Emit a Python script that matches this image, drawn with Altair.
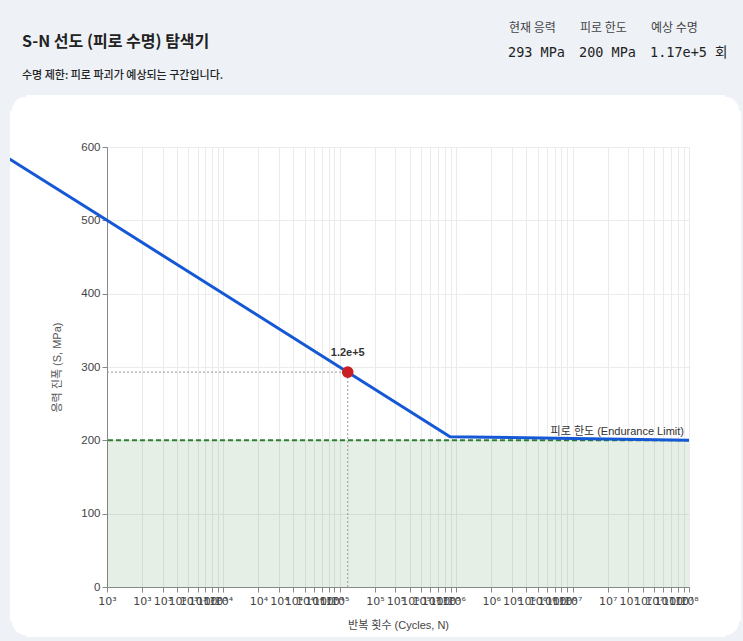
import altair as alt
import pandas as pd

# ---------------- data ----------------
line_N = [100, 1000, 8.85e5, 1e8]
line_S = [600, 500, 205, 200]
endurance_limit = 200
current_N = 1.17e5
current_S = 293
x_domain = [1e3, 1e8]
y_domain = [0, 600]
y_ticks = [0, 100, 200, 300, 400, 500, 600]
x_decades = [3, 4, 5, 6, 7]
x_mults = [1, 2, 3, 4, 5, 6, 7, 8, 9]
x_ticks = [m * 10 ** e for e in x_decades for m in x_mults] + [1e8]

title_text = "S-N 선도 (피로 수명) 탐색기"
subtitle_text = "수명 제한: 피로 파괴가 예상되는 구간입니다."
stat_labels = ["현재 응력", "피로 한도", "예상 수명"]
stat_values = ["293 MPa", "200 MPa", "1.17e+5 회"]
endurance_text = "피로 한도 (Endurance Limit)"
x_title = "반복 횟수 (Cycles, N)"
y_title = "응력 진폭 (S, MPa)"

# ---------------- styles ----------------
PAGE_BG = "#eef2f7"
BLUE = "#1558d6"
RED = "#c81e24"
GREEN = "#2e7d32"
KFONT = "Noto Sans CJK KR"
AFONT = "Liberation Sans, Noto Sans CJK KR"

W, H = 582, 440
PL, PT = 107, 147

xscale = alt.Scale(type="log", domain=x_domain)
yscale = alt.Scale(domain=y_domain)

xaxis = alt.Axis(
    values=x_ticks,
    labelExpr="'10' + ['⁰','¹','²','³','⁴','⁵','⁶','⁷','⁸','⁹'][floor(log(datum.value)/LN10 + 0.000001)]",
    labelOverlap=False, labelFlush=False,
    grid=True, gridColor="#ebebeb",
    domainColor="#888", tickColor="#888", tickSize=5, labelPadding=3,
    labelFontSize=11, labelColor="#444", labelFont="DejaVu Sans",
    title=x_title, titleFontSize=11, titleFontWeight="normal", titleColor="#444",
    titleFont=AFONT, titlePadding=13,
)
yaxis = alt.Axis(
    values=y_ticks, grid=True, gridColor="#ebebeb",
    domainColor="#888", tickColor="#888", tickSize=5,
    labelFontSize=11.5, labelColor="#444", labelFont=AFONT,
    title=y_title, titleFontSize=11, titleFontWeight="normal", titleColor="#555",
    titleFont=AFONT, titlePadding=18,
)


def X(f="N"):
    return alt.X(f"{f}:Q", scale=xscale, axis=xaxis)


def Y(f="S"):
    return alt.Y(f"{f}:Q", scale=yscale, axis=yaxis)


dummy = pd.DataFrame({"k": [0]})


def rect(x, x2, y, y2, color):
    return alt.Chart(dummy).mark_rect(color=color).encode(
        x=alt.value(x), x2=alt.value(x2), y=alt.value(y), y2=alt.value(y2)
    )


def dot(x, y, r, color):
    return alt.Chart(dummy).mark_circle(color=color, opacity=1).encode(
        x=alt.value(x), y=alt.value(y), size=alt.value(3.1416 * r * r)
    )


def label(text, x, y, size, color="#222", font=KFONT, weight="normal", align="left"):
    return alt.Chart(dummy).mark_text(
        text=text, fontSize=size, font=font, fontWeight=weight, color=color,
        align=align, baseline="middle",
    ).encode(x=alt.value(x), y=alt.value(y))


# ---------------- data layers ----------------
df_line = pd.DataFrame({"N": line_N, "S": line_S})
df_fill = pd.DataFrame({"N": x_domain, "S": [endurance_limit, endurance_limit]})
df_lim = pd.DataFrame({"N": [x_domain[1]], "S": [endurance_limit]})
df_h = pd.DataFrame({"N": [x_domain[0], current_N], "S": [current_S, current_S]})
df_v = pd.DataFrame({"N": [current_N, current_N], "S": [0, current_S]})
df_pt = pd.DataFrame({"N": [current_N], "S": [current_S]})

fill = alt.Chart(df_fill).mark_area(color=GREEN, opacity=0.12).encode(x=X(), y=Y())
lim_rule = alt.Chart(df_lim).mark_rule(color=GREEN, strokeWidth=2, strokeDash=[5, 3]).encode(y=Y())
hline = alt.Chart(df_h).mark_line(color="#999", strokeWidth=1, strokeDash=[2, 2]).encode(x=X(), y=Y())
vline = alt.Chart(df_v).mark_line(color="#999", strokeWidth=1, strokeDash=[2, 2]).encode(x=X(), y=Y())
sn_line = alt.Chart(df_line).mark_line(color=BLUE, strokeWidth=3, clip=False).encode(x=X(), y=Y())
point = alt.Chart(df_pt).mark_circle(color=RED, size=135, opacity=1).encode(x=X(), y=Y())
pt_label = alt.Chart(df_pt).mark_text(
    fontSize=11, fontWeight="bold", color="#333", font=AFONT, dy=-19, baseline="middle"
).encode(x=X(), y=Y(), text=alt.Text("N:Q", format=".1e"))
lim_label = alt.Chart(df_lim).mark_text(
    text=endurance_text, fontSize=11, color="#333", font=AFONT,
    align="right", baseline="bottom", dx=-5, dy=-3,
).encode(x=X(), y=Y())

# ---------------- page / card decoration ----------------
R = 16
cl, cr, ct, cb = 10 - PL, 741 - PL, 95 - PT, 637 - PT
deco = [
    rect(-PL, W + 60, -PT, ct, PAGE_BG),
    rect(-PL, cl, -PT, H + 60, PAGE_BG),
    rect(cr, W + 60, -PT, H + 60, PAGE_BG),
    rect(-PL, W + 60, cb, H + 60, PAGE_BG),
    rect(cl, cl + R, ct, ct + R, PAGE_BG),
    rect(cr - R, cr, ct, ct + R, PAGE_BG),
    rect(cl, cl + R, cb - R, cb, PAGE_BG),
    rect(cr - R, cr, cb - R, cb, PAGE_BG),
    dot(cl + R, ct + R, R, "white"),
    dot(cr - R, ct + R, R, "white"),
    dot(cl + R, cb - R, R, "white"),
    dot(cr - R, cb - R, R, "white"),
]

header = [
    label(title_text, 22 - PL, 42 - PT, 16, "#222", KFONT, "bold"),
    label(subtitle_text, 22 - PL, 76 - PT, 11, "#222", KFONT, 500),
]
stat_x = [509 - PL, 580 - PL, 651 - PL]
for sx, lt, vt in zip(stat_x, stat_labels, stat_values):
    header.append(label(lt, sx, 28 - PT, 12, "#444", KFONT))
    header.append(label(vt, sx - 1, 53 - PT, 13.5, "#222", "DejaVu Sans Mono, Noto Sans CJK KR"))

chart = alt.layer(
    fill, lim_rule, hline, vline, sn_line, point, pt_label, lim_label, *deco, *header
).properties(
    width=W, height=H,
    autosize=alt.AutoSizeParams(type="none"),
    padding={"left": PL, "top": PT, "right": 743 - PL - W, "bottom": 641 - PT - H},
    background="white",
).configure_view(stroke=None)

chart.save("out.html", embed_options={"renderer": "svg", "actions": False})
